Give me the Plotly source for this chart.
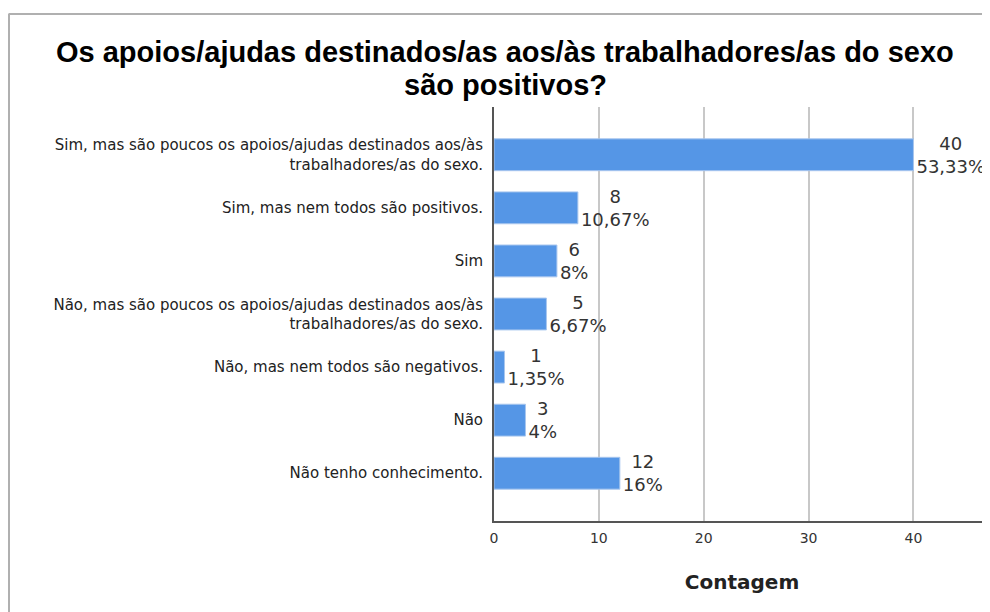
import plotly.graph_objects as go

categories = [
    "Sim, mas são poucos os apoios/ajudas destinados aos/às<br>trabalhadores/as do sexo.",
    "Sim, mas nem todos são positivos.",
    "Sim",
    "Não, mas são poucos os apoios/ajudas destinados aos/às<br>trabalhadores/as do sexo.",
    "Não, mas nem todos são negativos.",
    "Não",
    "Não tenho conhecimento.",
]
counts = [40, 8, 6, 5, 1, 3, 12]
percent_labels = ["53,33%", "10,67%", "8%", "6,67%", "1,35%", "4%", "16%"]
x_ticks = [0, 10, 20, 30, 40]
title_lines = ["Os apoios/ajudas destinados/as aos/às trabalhadores/as do sexo",
               "são positivos?"]

W, H = 990, 612
OFF = 8  # page body margin offset
L, R, T, B = 494 - OFF, OFF, 107 - OFF, 612 - (521 - OFF)

labels = [f"{c}<br>{p}" for c, p in zip(counts, percent_labels)]

fig = go.Figure(go.Bar(
    x=counts, y=categories, orientation="h",
    marker=dict(color="#5596e6", line=dict(color="#a8c6ee", width=1)),
    width=0.6,
    text=labels, textposition="outside", cliponaxis=False,
    constraintext="none",
    textfont=dict(family="DejaVu Sans", size=18, color="#333333"),
))

pw = W - L - R
ph = H - T - B
def px_x(p):  # screen px -> paper
    return (p - OFF - L) / pw
def px_y(p):
    return 1 - (p - OFF - T) / ph

annotations = [
    dict(text=f"<b>{title_lines[0]}</b>", xref="paper", yref="paper",
         x=px_x(505), y=px_y(52), xanchor="center", yanchor="middle",
         showarrow=False, font=dict(family="Liberation Sans", size=29, color="#000000")),
    dict(text=f"<b>{title_lines[1]}</b>", xref="paper", yref="paper",
         x=px_x(505), y=px_y(85), xanchor="center", yanchor="middle",
         showarrow=False, font=dict(family="Liberation Sans", size=29, color="#000000")),
]

fig.update_layout(
    width=W, height=H,
    margin=dict(l=L, r=R, t=T, b=B),
    paper_bgcolor="white", plot_bgcolor="white",
    showlegend=False,
    font=dict(family="DejaVu Sans", color="#222222"),
    xaxis=dict(
        range=[0, 47.3], tickvals=x_ticks,
        showgrid=True, gridcolor="#c8c8c8", gridwidth=1.5,
        showline=True, linecolor="#555555", linewidth=2,
        zeroline=False, ticks="",
        tickfont=dict(size=14, color="#333333"),
        ticklabelstandoff=3,
        title=dict(text="<b>Contagem</b>", font=dict(size=20, color="#222222"), standoff=30),
        fixedrange=True,
    ),
    yaxis=dict(
        type="category", range=[6.9, -0.9],
        showline=True, linecolor="#555555", linewidth=2,
        showgrid=False, ticks="",
        tickfont=dict(size=15, color="#222222"),
        ticklabelstandoff=6,
    ),
    annotations=annotations,
    shapes=[
        dict(type="line", xref="paper", yref="paper",
             x0=px_x(OFF + 0.5), x1=px_x(1000), y0=px_y(14), y1=px_y(14),
             line=dict(color="#b0b0b0", width=2)),
        dict(type="line", xref="paper", yref="paper",
             x0=px_x(OFF + 1), x1=px_x(OFF + 1), y0=px_y(14), y1=px_y(625),
             line=dict(color="#b0b0b0", width=2)),
    ],
)
fig.write_html("out.html")
